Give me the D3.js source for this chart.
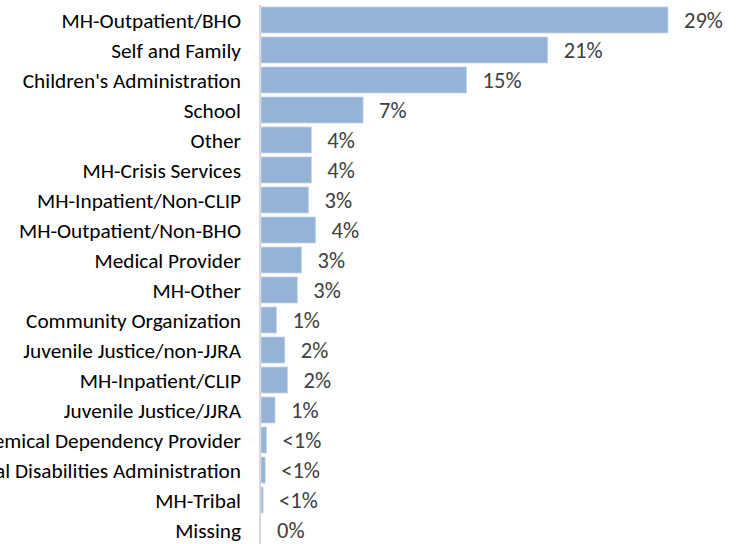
<!DOCTYPE html>
<html>
<head>
<meta charset="utf-8">
<script src="https://cdn.jsdelivr.net/npm/d3@7"></script>
<style>
  body { margin: 0; background: #fff; }
  svg text { font-family: Carlito, Calibri, "Open Sans", sans-serif; }
</style>
</head>
<body>
<div id="chart"></div>
<script>
// Referral sources, top to bottom
var categories = [
	'MH-Outpatient/BHO', 'Self and Family', "Children's Administration", 'School',
	'Other', 'MH-Crisis Services', 'MH-Inpatient/Non-CLIP', 'MH-Outpatient/Non-BHO',
	'Medical Provider', 'MH-Other', 'Community Organization', 'Juvenile Justice/non-JJRA',
	'MH-Inpatient/CLIP', 'Juvenile Justice/JJRA', 'Chemical Dependency Provider',
	'Developmental Disabilities Administration', 'MH-Tribal', 'Missing'
];
// share of referrals, percent
var values = [29.1, 20.5, 14.7, 7.3, 3.6, 3.6, 3.4, 3.9, 2.9, 2.6, 1.1, 1.7, 1.9, 1.0, 0.4, 0.3, 0.15, 0];
// labels as printed
var valueLabels = ['29%', '21%', '15%', '7%', '4%', '4%', '3%', '4%', '3%', '3%', '1%', '2%', '2%', '1%', '<1%', '<1%', '<1%', '0%'];

var width = 740, height = 544;
var axisX = 261;

var svg = d3.select('#chart').append('svg')
		.attr('width', width)
		.attr('height', height);

var xScale = d3.scaleLinear()
		.domain([0, 29.1])
		.range([axisX, 668]);

var yScale = d3.scaleBand()
		.domain(categories)
		.range([5, 545])
		.paddingInner(0.133)
		.paddingOuter(0.066);

var rows = svg.selectAll('g.row')
		.data(categories)
		.enter()
		.append('g')
		.attr('class', 'row');

rows.append('rect')
		.attr('x', axisX)
		.attr('y', d => yScale(d))
		.attr('width', (d, i) => xScale(values[i]) - axisX)
		.attr('height', yScale.bandwidth())
		.attr('fill', '#95b3d7')
		.attr('stroke', '#c6d6ea')
		.attr('stroke-width', 0.8);

rows.append('text')
		.attr('x', (d, i) => xScale(values[i]) + 16)
		.attr('y', d => yScale(d) + yScale.bandwidth() / 2)
		.attr('dy', '0.36em')
		.attr('fill', '#404040')
		.style('font-size', '22.5px')
		.text((d, i) => valueLabels[i]);

// category axis
var yAxis = d3.axisLeft(yScale).tickSize(0).tickPadding(20);
var axisG = svg.append('g')
		.attr('transform', 'translate(' + axisX + ',0)')
		.call(yAxis);
axisG.select('.domain').remove();
axisG.selectAll('text')
		.attr('fill', '#000')
		.attr('dy', '0.36em')
		.style('font-size', '21.3px');

svg.append('line')
		.attr('x1', axisX - 1).attr('x2', axisX - 1)
		.attr('y1', 5).attr('y2', height)
		.attr('stroke', '#d9d9d9')
		.attr('stroke-width', 2);
</script>
</body>
</html>
